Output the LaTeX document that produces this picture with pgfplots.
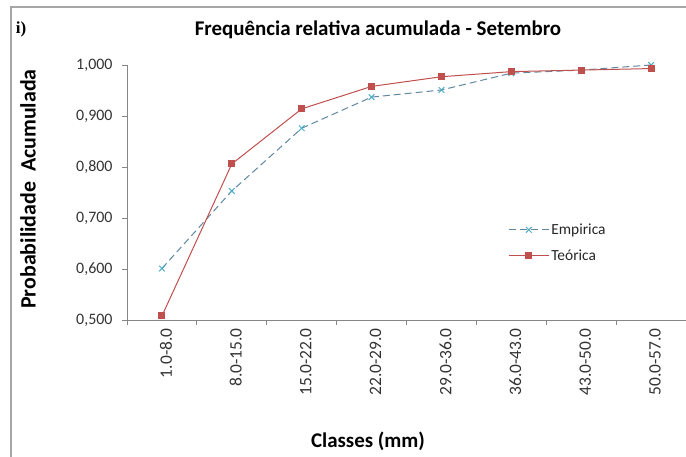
\documentclass[border=0pt]{standalone}
\usepackage{pgfplots}
\pgfplotsset{compat=1.18}
\usepackage{fontspec}
\setmainfont{Carlito}
\newfontfamily\serifbold{Liberation Serif}
\definecolor{empline}{RGB}{95,135,160}
\definecolor{empmark}{RGB}{75,172,198}
\definecolor{teo}{RGB}{192,80,77}
\definecolor{axgray}{RGB}{134,134,134}
\newcommand{\legfont}{\fontsize{15.5}{18}\selectfont}

\pgfplotstableread{
idx emp teo
0 0.601 0.508
1 0.753 0.806
2 0.876 0.914
3 0.937 0.958
4 0.951 0.977
5 0.984 0.987
6 0.990 0.990
7 1.000 0.993
}\dados

\begin{document}
\begin{tikzpicture}[x=1bp,y=1bp]
\path[use as bounding box] (0,0) rectangle (686,457);
% moldura do gráfico
\draw[gray!70, line width=1.5bp] (11,0) -- (11,450) -- (686,450);

\begin{axis}[
    at={(127bp,137bp)}, anchor=south west,
    scale only axis,
    width=559bp, height=255bp,
    xmin=-0.5, xmax=7.5,
    ymin=0.5, ymax=1.0,
    axis x line*=bottom,
    axis y line*=left,
    axis line style={axgray, line width=0.8bp},
    xtick={0,...,7},
    xticklabels={1.0-8.0,8.0-15.0,15.0-22.0,22.0-29.0,29.0-36.0,36.0-43.0,43.0-50.0,50.0-57.0},
    major x tick style={draw=none},
    minor xtick={-0.5,0.5,...,7.5},
    minor tick length=5bp,
    minor x tick style={axgray, line width=0.8bp},
    ytick={0.5,0.6,...,1.0},
    major tick length=5bp,
    tick align=outside,
    y tick style={axgray, line width=0.8bp},
    xticklabel style={rotate=90, anchor=east, font=\fontsize{17.5}{17.5}\selectfont, text=black!80, yshift=-4bp},
    yticklabel style={font=\fontsize{16}{16}\selectfont, text=black!80, xshift=-6bp},
    /pgf/number format/assume math mode=true,
    yticklabel={\pgfmathprintnumber[fixed, fixed zerofill, precision=3, use comma]{\tick}},
    legend image code/.code={
        \draw[mark repeat=2, mark phase=2, #1] plot coordinates {(0bp,0bp) (20bp,0bp) (40bp,0bp)};
    },
    legend style={at={(rel axis cs:0.68,0.39)}, anchor=north west, draw=none, fill=none,
        inner sep=1pt, font=\legfont, row sep=10bp, text=black!85},
    legend cell align=left,
    clip=false,
]
\addplot[empline, dashed, dash pattern=on 7bp off 4bp, line width=1bp,
    mark=x, mark size=4bp, mark options={solid, empmark, line width=1bp}]
    table[x=idx, y=emp] {\dados};
\addlegendentry{\legfont Empirica}
\addplot[teo, line width=1bp, mark=square*, mark size=3bp, mark options={solid, teo}]
    table[x=idx, y=teo] {\dados};
\addlegendentry{\legfont Teórica}
\end{axis}

\node[font=\bfseries\fontsize{21}{21}\selectfont] at (378,427) {Frequência relativa acumulada - Setembro};
\node[font=\serifbold\bfseries\fontsize{17}{17}\selectfont] at (21,428) {i)};
\node[rotate=90, font=\bfseries\fontsize{22}{22}\selectfont] at (28,268) {Probabilidade\ \ Acumulada};
\node[font=\bfseries\fontsize{21}{21}\selectfont] at (368,16) {Classes (mm)};
\end{tikzpicture}
\end{document}
